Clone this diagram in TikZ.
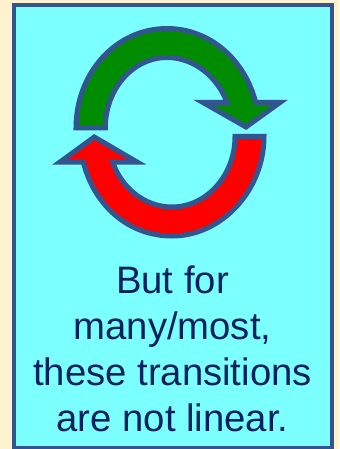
\documentclass[tikz,border=0pt]{standalone}
\usepackage{fontspec}
\setmainfont{Liberation Sans}
\usepackage{xcolor}
\usetikzlibrary{positioning}
\definecolor{paper}{HTML}{FFF2CF}
\definecolor{panel}{HTML}{7BFFFF}
\definecolor{edge}{HTML}{33558F}
\definecolor{leaf}{HTML}{008C00}
\definecolor{ink}{HTML}{06215F}
\tikzset{
  cyclearrow/.style={draw=edge, line width=3.75pt, line join=miter, miter limit=10},
}

\begin{document}
\begin{tikzpicture}[x=0.75pt, y=-0.75pt]
  \useasboundingbox (0,0) rectangle (339,449);
  \fill[paper] (0,0) rectangle (339,449);
  \draw[fill=panel, draw=edge, line width=3pt] (13.5,5.5) rectangle (332,448);
  % upper arrow
  \draw[cyclearrow, fill=leaf] (76,128)
        .. controls (76,73) and (116,28.5) .. (167,28.5)
        .. controls (210,28.5) and (245,60) .. (255.7,102.5)
        -- (280,102.5) -- (246,127) -- (203,102.5) -- (227,102.5)
        .. controls (218,78) and (195,57.5) .. (167,57.5)
        .. controls (133,57.5) and (105.3,89) .. (105.3,128) -- cycle;
  % lower arrow
  \draw[cyclearrow, fill=red] (264,136.5)
        .. controls (264,190) and (222,236) .. (172,236)
        .. controls (128,236) and (94,205) .. (83.3,162)
        -- (60,162) -- (94.3,137) -- (137,162) -- (112.7,162)
        .. controls (121,187) and (144,207) .. (172,207)
        .. controls (206,207) and (235,176) .. (235,136.5) -- cycle;
  \node[ink, font=\fontsize{28.7}{34.5}\selectfont, align=center, anchor=base] (caption) at (172.5,431)
        {But for\\many/most,\\these transitions\\are not linear.};
\end{tikzpicture}
\end{document}
